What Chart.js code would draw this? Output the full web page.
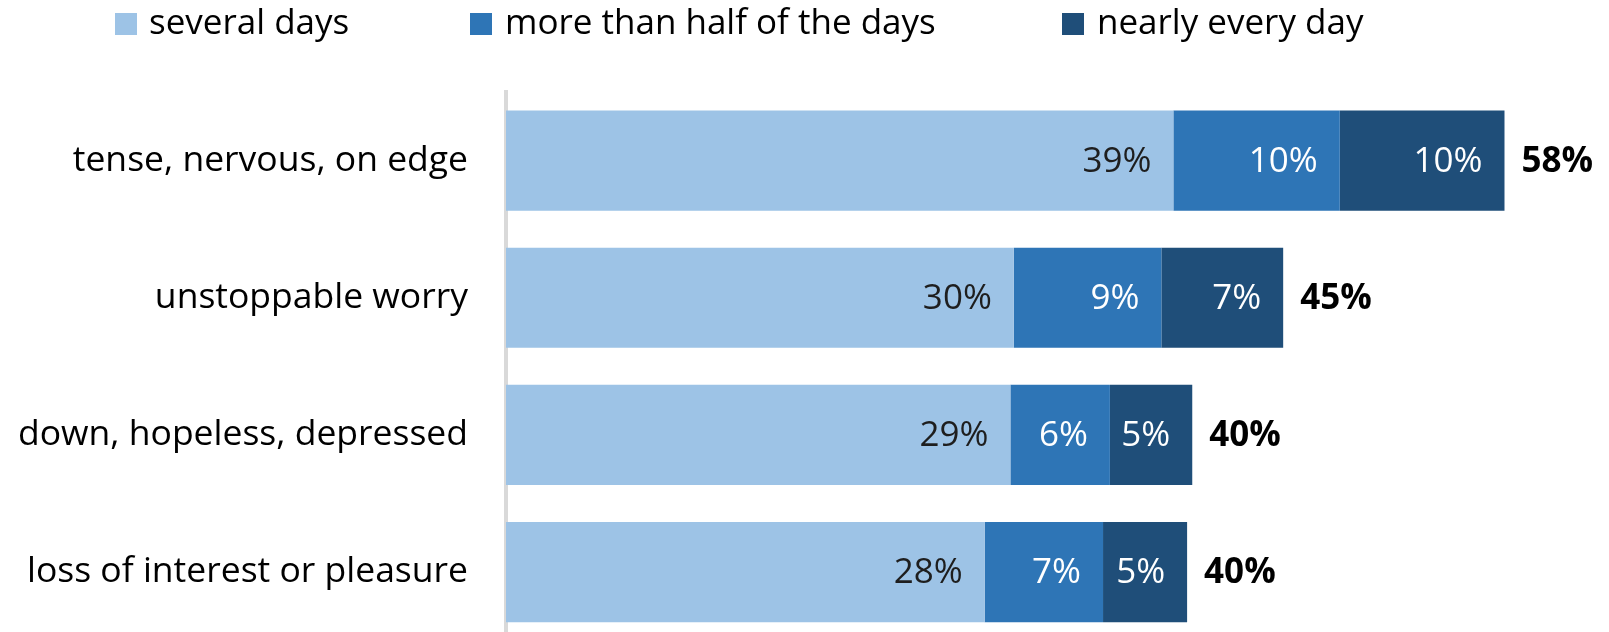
<!DOCTYPE html>
<html>
<head>
<meta charset="utf-8">
<script src="https://cdn.jsdelivr.net/npm/chart.js@4"></script>
<style>
  html, body { margin: 0; padding: 0; background: #fff; overflow: hidden; }
  #wrap { position: relative; width: 1609px; height: 632px; overflow: hidden; }
  #chart { position: absolute; left: 0; top: 0; }
  .lg-box { position: absolute; top: 13px; width: 22px; height: 22px; }
  .lg-txt { position: absolute; top: 1px; font-family: 'Open Sans', sans-serif; font-size: 35px; line-height: 40px; color: #000; white-space: nowrap; }
</style>
</head>
<body>
<div id="wrap">
  <canvas id="chart" width="1609" height="700"></canvas>
  <div id="legend"></div>
</div>
<script>
const categories = ['tense, nervous, on edge', 'unstoppable worry', 'down, hopeless, depressed', 'loss of interest or pleasure'];
const seriesNames = ['several days', 'more than half of the days', 'nearly every day'];
const severalDays = [38.9, 29.6, 29.4, 27.9];
const moreThanHalf = [9.7, 8.6, 5.8, 6.9];
const nearlyEveryDay = [9.6, 7.1, 4.8, 4.9];
const colors = ['#9dc3e6', '#2e75b6', '#1f4e79'];

// legend (html, positions)
const legendBoxX = [115, 470, 1062];
const legendTextX = [149, 505, 1097];
const legend = document.getElementById('legend');
seriesNames.forEach((name, i) => {
    const b = document.createElement('div');
    b.className = 'lg-box';
    b.style.left = legendBoxX[i] + 'px';
    b.style.background = colors[i];
    legend.appendChild(b);
    const t = document.createElement('div');
    t.className = 'lg-txt';
    t.style.left = legendTextX[i] + 'px';
    t.textContent = name;
    legend.appendChild(t);
});

const pct = v => Math.round(v) + '%';

const labelPlugin = {
    id: 'barLabels',
    afterDatasetsDraw(chart) {
        const ctx = chart.ctx;
        ctx.save();
        ctx.textBaseline = 'middle';
        chart.data.datasets.forEach((ds, di) => {
            const meta = chart.getDatasetMeta(di);
            ctx.font = '35px "Open Sans"';
            ctx.textAlign = 'right';
            ctx.fillStyle = di === 0 ? '#1e1e1e' : '#ffffff';
            meta.data.forEach((bar, i) => {
                ctx.fillText(pct(ds.data[i]), bar.x - 22, bar.y + 1);
            });
        });
        // totals
        const last = chart.getDatasetMeta(chart.data.datasets.length - 1);
        ctx.font = 'bold 35px "Open Sans"';
        ctx.textAlign = 'left';
        ctx.fillStyle = '#000';
        last.data.forEach((bar, i) => {
            const total = severalDays[i] + moreThanHalf[i] + nearlyEveryDay[i];
            ctx.fillText(pct(total), bar.x + 17, bar.y + 1);
        });
        ctx.restore();
    }
};

const ctx = document.getElementById('chart').getContext('2d');
new Chart(ctx, {
    type: 'bar',
    data: {
        labels: categories,
        datasets: [
            { label: seriesNames[0], data: severalDays, backgroundColor: colors[0] },
            { label: seriesNames[1], data: moreThanHalf, backgroundColor: colors[1] },
            { label: seriesNames[2], data: nearlyEveryDay, backgroundColor: colors[2] }
        ]
    },
    options: {
        indexAxis: 'y',
        responsive: false,
        animation: false,
        layout: { padding: { top: 92, right: 5, bottom: 0, left: 0 } },
        datasets: { bar: { barPercentage: 0.73, categoryPercentage: 1 } },
        plugins: { legend: { display: false }, tooltip: { enabled: false } },
        scales: {
            x: { stacked: true, display: false, min: 0, max: 64 },
            y: {
                stacked: true,
                grid: { display: false, drawTicks: false },
                border: { display: true, color: '#d9d9d9', width: 4 },
                ticks: { color: '#000', font: { family: 'Open Sans', size: 35.5 }, padding: 38 },
                afterFit(scale) { scale.width = 506; }
            }
        }
    },
    plugins: [labelPlugin]
});
</script>
</body>
</html>
